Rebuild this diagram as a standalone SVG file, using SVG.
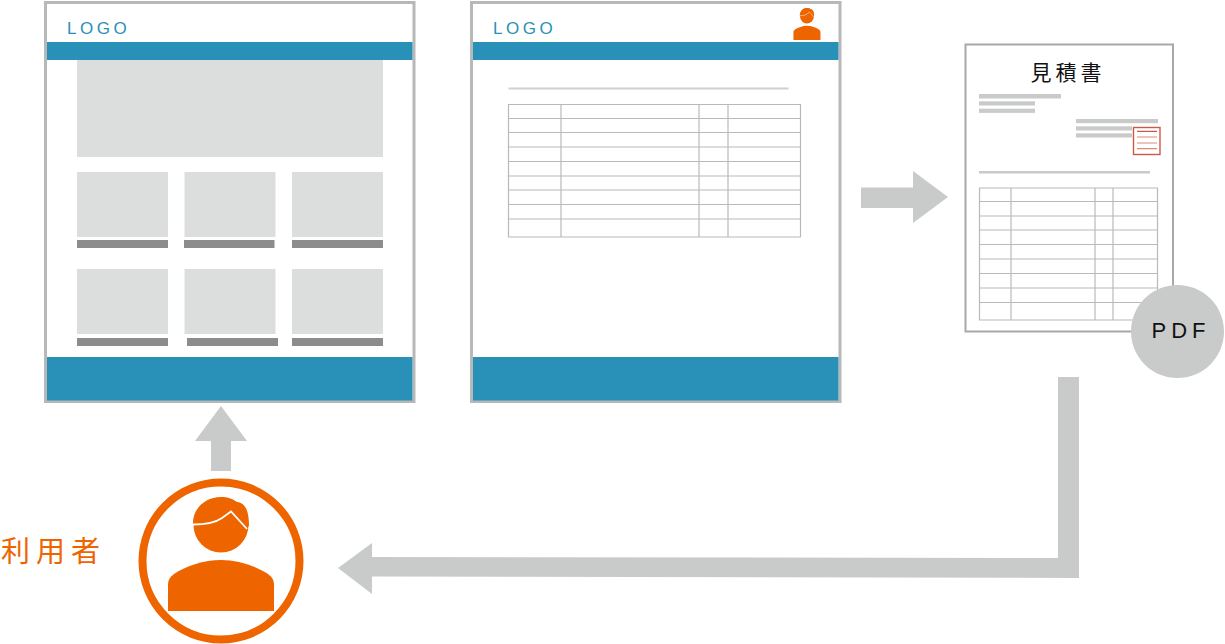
<svg xmlns="http://www.w3.org/2000/svg" xmlns:xlink="http://www.w3.org/1999/xlink" width="1225" height="644" viewBox="0 0 1225 644">
<style>
.frame{fill:#fff;stroke:#b7b8b8;stroke-width:3}
.blue{fill:#2990b8}
.tile{fill:#dcdddd}
.cap{fill:#8c8c8c}
.logo{font-family:"Liberation Sans",Arial,sans-serif;font-size:17px;letter-spacing:3.500px;fill:#2990b8}
.tbl{fill:none;stroke:#b9b9b9;stroke-width:1.200}
.ln{fill:#c9caca}
.arrow{fill:#c9caca}
.jp{font-family:"Noto Sans CJK JP","Liberation Sans",sans-serif}
</style>
<defs>
<g id="person">
<circle cx="221" cy="525" r="27.500" fill="#ee6500"/>
<path d="M193 525C192 509 205 497 221 497C228 497 233 499 237 502C245 503 249 510 249 526L247 527L236 512L226 518C217 524 205 525 193 525Z" fill="#ee6500"/>
<path d="M193 524.500C205 524.500 215 523 222 518L231 511.500L247 529" fill="none" stroke="#fff" stroke-width="1.800"/>
<path d="M168 611V585C168 580 170 577 174 574C186 566 204 560 221 560C238 560 256 566 268 574C272 577 274 580 274 585V611Z" fill="#ee6500"/>
</g>
</defs>

<g id="screen-top">
<rect class="frame" x="45.500" y="2.500" width="368.500" height="399"/>
<text class="logo" x="67" y="34">LOGO</text>
<rect class="blue" x="47" y="42" width="365.500" height="18"/>
<rect class="blue" x="47" y="357" width="365.500" height="43.500"/>
<rect class="tile" x="77" y="60" width="306" height="97"/>
<rect class="tile" x="77" y="172" width="91" height="65"/>
<rect class="tile" x="184.500" y="172" width="91" height="65"/>
<rect class="tile" x="292" y="172" width="91" height="65"/>
<rect class="cap" x="77" y="240" width="91" height="8"/>
<rect class="cap" x="184" y="240" width="90.500" height="8"/>
<rect class="cap" x="292" y="240" width="91" height="8"/>
<rect class="tile" x="77" y="269" width="91" height="65"/>
<rect class="tile" x="184.500" y="269" width="91" height="65"/>
<rect class="tile" x="292" y="269" width="91" height="65"/>
<rect class="cap" x="77" y="338" width="91" height="8"/>
<rect class="cap" x="187" y="338" width="91" height="8"/>
<rect class="cap" x="292" y="338" width="91" height="8"/>
</g>

<g id="screen-quote">
<rect class="frame" x="471.500" y="2.500" width="368.500" height="399"/>
<text class="logo" x="493" y="34">LOGO</text>
<rect class="blue" x="473" y="42" width="365.500" height="18"/>
<rect class="blue" x="473" y="357" width="365.500" height="43.500"/>
<use xlink:href="#person" href="#person" transform="translate(750.600 -131.700) scale(0.255 0.281)"/>
<rect x="508.500" y="87.500" width="280" height="2" fill="#d0d0d0"/>
<path class="tbl" d="M508.500 104.500H800.500V237H508.500ZM508.500 118.500H800.500M508.500 132.500H800.500M508.500 147H800.500M508.500 161.500H800.500M508.500 176H800.500M508.500 190H800.500M508.500 204.500H800.500M508.500 219H800.500M561 104.500V237M699 104.500V237M728 104.500V237"/>
</g>

<g id="quote-pdf">
<rect x="965.500" y="44.500" width="207.500" height="287" fill="#fff" stroke="#a8a8a8" stroke-width="2"/>
<text class="jp" x="1030.500" y="80" font-size="21" letter-spacing="4" fill="#111">見積書</text>
<rect class="ln" x="979" y="94" width="82" height="4.500"/>
<rect class="ln" x="979" y="101.300" width="56" height="4.200"/>
<rect class="ln" x="979" y="108.700" width="56" height="4.200"/>
<rect class="ln" x="1076" y="119" width="82" height="4.200"/>
<rect class="ln" x="1076" y="126.300" width="56" height="4.200"/>
<rect class="ln" x="1076" y="133.300" width="56" height="4.200"/>
<rect x="1133.500" y="127.500" width="26.500" height="27" fill="#fff" stroke="#cd5a45" stroke-width="1.400"/>
<path d="M1137 131.300H1157" stroke="#b7312a" stroke-width="1" fill="none"/>
<path d="M1137 137H1157M1137 143H1157M1137 148.700H1157" stroke="#de8a70" stroke-width="1.200" fill="none"/>
<rect class="ln" x="979" y="171" width="171" height="2.500"/>
<path class="tbl" d="M979.500 188H1157.500V320H979.500ZM979.500 201.500H1157.500M979.500 216H1157.500M979.500 230H1157.500M979.500 244.500H1157.500M979.500 259H1157.500M979.500 273.500H1157.500M979.500 288H1157.500M979.500 302.500H1157.500M1011 188V320M1095 188V320M1113 188V320"/>
<circle cx="1177.500" cy="331.500" r="46.500" fill="#c9caca"/>
<text x="1151.500" y="338" font-family="'Liberation Sans',Arial,sans-serif" font-size="22" letter-spacing="5" fill="#111">PDF</text>
</g>

<g id="user">
<circle cx="221" cy="561" r="78.500" fill="#fff" stroke="#ee6500" stroke-width="8"/>
<use xlink:href="#person" href="#person"/>
<text class="jp" x="1" y="562" font-size="29" letter-spacing="6" fill="#ee6500">利用者</text>
</g>

<g id="connectors">
<path class="arrow" d="M861 187.500H913V171L948 197L913 223V208H861Z"/>
<path class="arrow" d="M221 406L247 441H231V471H211V441H195Z"/>
<path class="arrow" d="M1058 377H1079V578L372 576.500V594L338 568L372 543V557L1058 558Z"/>
</g>
</svg>
